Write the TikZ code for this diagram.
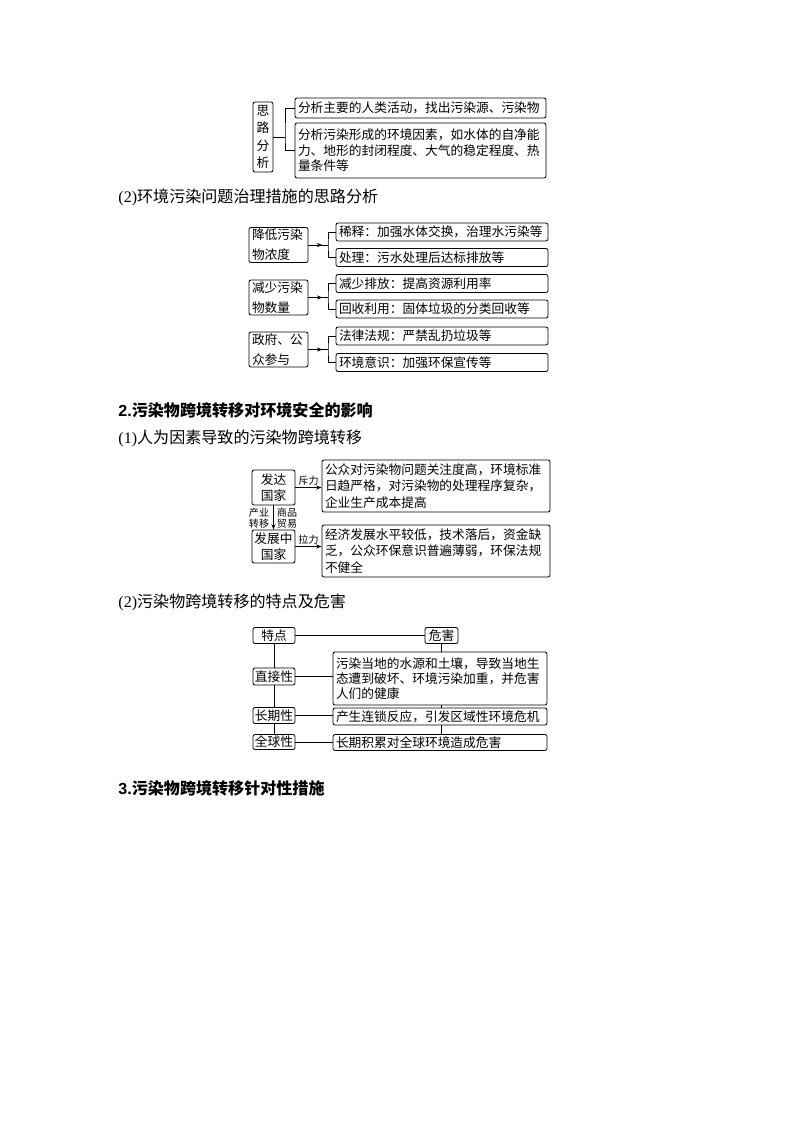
\documentclass[tikz,border=0pt]{standalone}
\usepackage{fontspec}
\setmainfont{Liberation Serif}
\setsansfont{Liberation Sans}
\newfontfamily\cjk{Noto Sans CJK SC}
\usetikzlibrary{arrows.meta}
\newlength\pxl
\setlength\pxl{0.2625mm}
\newcommand\dtext{\cjk\fontsize{9.5}{11.5}\selectfont}
\newcommand\stext{\cjk\fontsize{7.5}{8}\selectfont}
\newcommand\htext{\fontsize{12}{14}\selectfont}
\tikzset{
    bx/.style={draw, rounded corners=1.5pt, inner sep=0pt, font=\dtext},
    wh/.style 2 args={minimum width=#1*\pxl, minimum height=#2*\pxl},
    lt/.style={text width=#1*\pxl, align=left},
    head/.style={anchor=west, inner sep=0pt, font=\htext},
    tip/.style={-{Stealth[length=4pt,width=3pt]}}
}
\begin{document}
\begin{tikzpicture}[x=\pxl, y=-\pxl, line width=0.6pt]
    \useasboundingbox (0,0) rectangle (800,1132);
    %思路分析
    \node[bx, wh={20}{70}, align=center, font=\cjk\fontsize{9.5}{13}\selectfont] (slfx) at (263,137) {思\\路\\分\\析};
    \node[bx, wh={251}{20}, lt=245] (fx1) at (420.5,108) {分析主要的人类活动，找出污染源、污染物};
    \node[bx, wh={251}{55}, lt=245] (fx2) at (420.5,150.5) {分析污染形成的环境因素，如水体的自净能\\力、地形的封闭程度、大气的稳定程度、热\\量条件等};
    \coordinate (j0) at (285,137);
    \draw (slfx) -- (j0);
    \draw (fx1.west) -| (j0) |- (fx2.west);
    \node[head] (h1) at (118,197) {(2)\cjk 环境污染问题治理措施的思路分析};
    % 治理措施
    \foreach \n/\y/\t/\ya/\ta/\yb/\tb in {
        1/245/{降低污染\\物浓度}/232/{稀释：加强水体交换，治理水污染等}/257.5/{处理：污水处理后达标排放等},
        2/297.5/{减少污染\\物数量}/283.5/{减少排放：提高资源利用率}/309/{回收利用：固体垃圾的分类回收等},
        3/349.5/{政府、公\\众参与}/336/{法律法规：严禁乱扔垃圾等}/362.5/{环境意识：加强环保宣传等}} {
        \node[bx, wh={59}{35}, lt=53, font=\cjk\fontsize{9.5}{15}\selectfont] (cs\n) at (278.5,\y) {\t};
        \node[bx, wh={212}{18}, lt=206] (ca\n) at (442,\ya) {\ta};
        \node[bx, wh={212}{18}, lt=206] (cb\n) at (442,\yb) {\tb};
        \coordinate (cj\n) at (328,\y);
        \draw (ca\n.west) -| (cj\n) |- (cb\n.west);
        \draw (cs\n.east) -- (cj\n);
        \draw[tip] (cs\n.east) -- ++(14,0);
    }
    \node[head, font=\htext\sffamily\bfseries] (h2) at (118,410) {2.\cjk 污染物跨境转移对环境安全的影响};
    \node[head] (h3) at (118,438) {(1)\cjk 人为因素导致的污染物跨境转移};
    % 跨境转移
    \node[bx, wh={43}{35}, align=center] (fd) at (273.5,487.5) {发达\\国家};
    \node[bx, wh={43}{33}, align=center] (fz) at (273.5,546.5) {发展中\\国家};
    \node[bx, wh={228}{52}, lt=222, font=\cjk\fontsize{9.5}{12.2}\selectfont] (yl1) at (436,486) {公众对污染物问题关注度高，环境标准\\日趋严格，对污染物的处理程序复杂，\\企业生产成本提高};
    \node[bx, wh={228}{52}, lt=222, font=\cjk\fontsize{9.5}{12.2}\selectfont] (yl2) at (436,551) {经济发展水平较低，技术落后，资金缺\\乏，公众环保意识普遍薄弱，环保法规\\不健全};
    \draw[tip] (fd) -- (fd -| yl1.west) node[midway, above, font=\stext, inner sep=1pt] {斥力};
    \draw[tip] (fz) -- (fz -| yl2.west) node[midway, above, font=\stext, inner sep=1pt] {拉力};
    \draw[tip] (fd) -- (fz);
    \node[font=\stext, align=center, inner sep=0pt] (cy) at (259,518) {产业\\转移};
    \node[font=\stext, align=center, inner sep=0pt] (sp) at (287,518) {商品\\贸易};
    \node[head] (h4) at (118,602) {(2)\cjk 污染物跨境转移的特点及危害};
    % 特点及危害
    \node[bx, wh={42}{16}] (tdian) at (274,635.5) {特点};
    \node[bx, wh={33}{16}] (weihai) at (441.5,635.5) {危害};
    \foreach \n/\y/\h/\t in {1/676.5/17/直接性, 2/715.5/16/长期性, 3/742/15/全球性} {
        \node[bx, wh={42}{\h}] (tx\n) at (274,\y) {\t};
    }
    \node[bx, wh={214}{53}, lt=208] (hw1) at (440,678.5) {污染当地的水源和土壤，导致当地生\\态遭到破坏、环境污染加重，并危害\\人们的健康};
    \node[bx, wh={214}{17}, lt=208] (hw2) at (440,716.5) {产生连锁反应，引发区域性环境危机};
    \node[bx, wh={214}{16}, lt=208] (hw3) at (440,742.5) {长期积累对全球环境造成危害};
    \draw (tdian) -- (weihai);
    \draw (tdian) -- (tx1);
    \draw (tx1) -- (tx2);
    \draw (tx2) -- (tx3);
    \draw (weihai.south) -- (weihai.south |- hw1.north);
    \draw (weihai.south |- hw1.south) -- (weihai.south |- hw2.north);
    \draw (weihai.south |- hw2.south) -- (weihai.south |- hw3.north);
    \foreach \n in {1,2,3} {
        \draw (tx\n) -- (tx\n -| hw\n.west);
    }
    \node[head, font=\htext\sffamily\bfseries] (h5) at (118,788) {3.\cjk 污染物跨境转移针对性措施};
\end{tikzpicture}
\end{document}
